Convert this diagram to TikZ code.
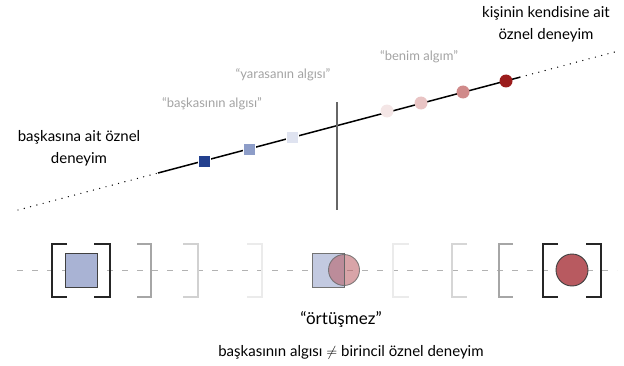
\documentclass[tikz,border=0pt]{standalone}
\usepackage{fontspec}
\setmainfont{Lato}
\begin{document}
\begin{tikzpicture}[x=1pt,y=1pt,
  biglabel/.style={font=\fontsize{15}{22}\selectfont, text=black, align=center, inner sep=0pt},
  graylabel/.style={font=\fontsize{13}{15}\selectfont, text=black!36, inner sep=0pt},
  dotline/.style={line width=1.4pt, dash pattern=on 0pt off 6.5pt, line cap=round},
  sq/.style={rectangle, minimum size=12pt, inner sep=0pt, draw=white, line width=0.4pt},
  dot/.style={circle, minimum size=13pt, inner sep=0pt},
  brk/.style={line width=1.4pt}
]
\useasboundingbox (0,0) rectangle (624,365);
\definecolor{sqA}{HTML}{23408E}
\definecolor{sqB}{HTML}{8D9DC8}
\definecolor{sqC}{HTML}{DFE3F0}
\definecolor{dcA}{HTML}{9B1C1C}
\definecolor{dcB}{HTML}{D08A8A}
\definecolor{dcC}{HTML}{E9C4C4}
\definecolor{dcD}{HTML}{F4E6E6}
\definecolor{boxblue}{HTML}{A9B3D4}
\definecolor{boxred}{HTML}{B85A60}
% main line
\coordinate (L0) at (18,155);
\coordinate (L1) at (158,192);
\coordinate (L2) at (520,287.8);
\coordinate (L3) at (615,313.1);
\draw[dotline] (L0) -- (L1);
\draw[line width=1.5pt] (L1) -- (L2);
\draw[dotline] (L2) -- (L3);
\coordinate (V0) at (337,263);
\coordinate (V1) at (337,155);
\draw[line width=1.5pt, black!60] (V0) -- (V1);
\node[sq, fill=sqC] (s3) at (292,228) {};
\node[sq, fill=sqB] (s2) at (249,216) {};
\node[sq, fill=sqA] (s1) at (204,204) {};
\node[dot, fill=dcD] (c4) at (387,254) {};
\node[dot, fill=dcC] (c3) at (421,262) {};
\node[dot, fill=dcB] (c2) at (463,273) {};
\node[dot, fill=dcA] (c1) at (506,284) {};
% labels top
\node[graylabel] (t1) at (212,261) {“başkasının algısı”};
\node[graylabel] (t2) at (283,290) {“yarasanın algısı”};
\node[graylabel] (t3) at (419,308) {“benim algım”};
\node[biglabel] (t4) at (79,217) {başkasına ait öznel\\deneyim};
\node[biglabel] (t5) at (546,341) {kişinin kendisine ait\\öznel deneyim};
% bottom row
\coordinate (D0) at (17,95);
\coordinate (D1) at (617,95);
\draw[black!30, line width=0.9pt, dash pattern=on 6pt off 9pt] (D0) -- (D1);
% left box
\draw[brk, black!85] (67,121) -- (52,121) -- (52,68) -- (67,68);
\draw[brk, black!85] (94,121) -- (110,121) -- (110,68) -- (94,68);
\node[rectangle, minimum width=32pt, minimum height=34pt, inner sep=0pt, fill=boxblue, draw=black!75, line width=0.9pt] (bl) at (81,95) {};
% fading right brackets
\draw[brk, black!35] (137,121) -- (151,121) -- (151,68) -- (137,68);
\draw[brk, black!18] (183,121) -- (198,121) -- (198,68) -- (183,68);
\draw[brk, black!8] (247,121) -- (262,121) -- (262,68) -- (247,68);
% fading left brackets
\draw[brk, black!8] (409,121) -- (393,121) -- (393,68) -- (409,68);
\draw[brk, black!16] (467,121) -- (452,121) -- (452,68) -- (467,68);
\draw[brk, black!35] (513,121) -- (499,121) -- (499,68) -- (513,68);
% right box
\draw[brk, black!85] (558,121) -- (543,121) -- (543,68) -- (558,68);
\draw[brk, black!85] (586,121) -- (601,121) -- (601,68) -- (586,68);
\node[circle, minimum size=32pt, inner sep=0pt, fill=boxred, draw=black!75, line width=0.9pt] (br) at (572,95) {};
% middle overlap
\node[rectangle, minimum width=32pt, minimum height=34pt, inner sep=0pt, fill=boxblue!70, draw=black!55, line width=0.9pt] (ms) at (328,95) {};
\node[circle, minimum size=31pt, inner sep=0pt, fill=boxred, fill opacity=0.55, draw=black!60, draw opacity=0.8, line width=0.9pt] (mc) at (344,95) {};
\draw[black!60, line width=0.9pt] (ms.north east) -- (ms.south east);
\node[font=\fontsize{17}{20}\selectfont, text=black, inner sep=0pt] (t6) at (341,45) {“örtüşmez”};
\node[font=\fontsize{15}{18}\selectfont, text=black, inner sep=0pt] (t7) at (351,13) {başkasının algısı $\neq$ birincil öznel deneyim};
\end{tikzpicture}
\end{document}
